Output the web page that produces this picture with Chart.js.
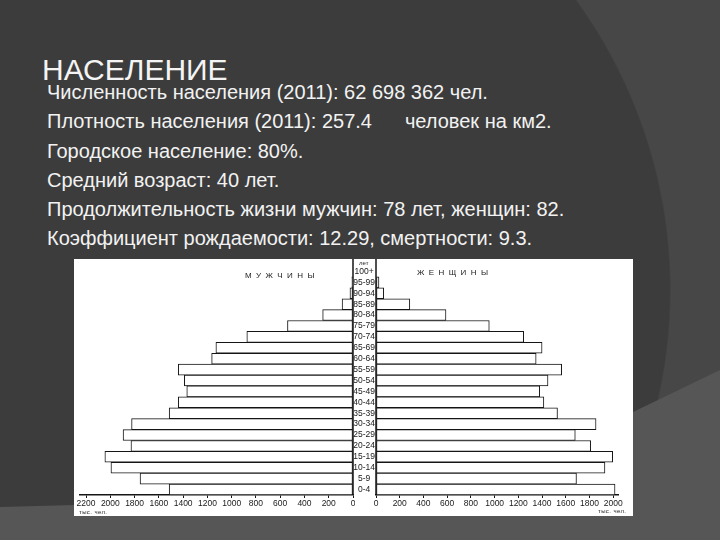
<!DOCTYPE html>
<html>
<head>
<meta charset="utf-8">
<script src="https://cdn.jsdelivr.net/npm/chart.js@4"></script>
<style>
  html, body { margin: 0; padding: 0; }
  body {
    width: 720px; height: 540px; overflow: hidden; position: relative;
    background: radial-gradient(circle 494px at 177px 290px, #3c3c3c 99.7%, #474747 100%);
    font-family: 'Liberation Sans', Arial, sans-serif;
  }
  .band {
    position: absolute; left: 0; top: 0; width: 720px; height: 540px; background: #565656;
    clip-path: polygon(0 507px, 74px 505px, 633px 412px, 720px 370px, 720px 540px, 0 540px);
  }
  .title {
    position: absolute; left: 42px; top: 55px; font-size: 30px; line-height: 30px;
    color: #f4f4f4;
  }
  .facts {
    position: absolute; left: 47px; top: 78px; font-size: 20px; line-height: 29.3px;
    color: #f2f2f2; white-space: pre;
  }
  .gap { display: inline-block; width: 33px; }
  .figure {
    position: absolute; left: 74px; top: 259px; width: 559px; height: 257px; background: #fff;
  }
  .figure canvas { position: absolute; top: 0; }
  .lbl {
    position: absolute; color: #222; white-space: nowrap;
    font-family: 'Liberation Sans', Arial, sans-serif;
  }
</style>
</head>
<body>
<div class="band"></div>
<div class="title">НАСЕЛЕНИЕ</div>
<div class="facts">Численность населения (2011): 62 698 362 чел.
Плотность населения (2011): 257.4<span class="gap"></span>человек на км2.
Городское население: 80%.
Средний возраст: 40 лет.
Продолжительность жизни мужчин: 78 лет, женщин: 82.
Коэффициент рождаемости: 12.29, смертности: 9.3.</div>

<div class="figure">
  <canvas id="menChart" width="281" height="257" style="left:0"></canvas>
  <canvas id="womenChart" width="280" height="257" style="left:279px"></canvas>
  <div class="lbl" style="left:171px; top:12px; font-size:8px; letter-spacing:4.4px;">МУЖЧИНЫ</div>
  <div class="lbl" style="left:343px; top:9px; font-size:8px; letter-spacing:4.4px;">ЖЕНЩИНЫ</div>
  <div class="lbl" style="left:285px; top:1px; font-size:6px;">лет</div>
  <div class="lbl" style="left:5px; top:250px; font-size:6px; letter-spacing:0.4px;">тыс. чел.</div>
  <div class="lbl" style="left:524px; top:249px; font-size:6px; letter-spacing:0.4px;">тыс. чел.</div>
</div>

<script>
// age groups, oldest at the top
const ageGroups = ['100+', '95-99', '90-94', '85-89', '80-84', '75-79', '70-74', '65-69', '60-64', '55-59', '50-54',
    '45-49', '40-44', '35-39', '30-34', '25-29', '20-24', '15-19', '10-14', '5-9', '0-4'];

// thousands of people
const men = [0, 10, 25, 90, 250, 540, 875, 1130, 1165, 1440, 1390, 1370, 1440, 1515, 1825, 1895, 1830, 2045, 1995, 1755, 1515];
const women = [0, 25, 65, 285, 590, 955, 1245, 1400, 1350, 1565, 1450, 1380, 1415, 1530, 1855, 1680, 1810, 1995, 1930, 1690, 2015];

// axis tick labels
const menTicks = [0, 200, 400, 600, 800, 1000, 1200, 1400, 1600, 1800, 2000, 2200];
const womenTicks = [0, 200, 400, 600, 800, 1000, 1200, 1400, 1600, 1800, 2000];

const labelFont = "'Liberation Sans', Arial, sans-serif";
const ink = '#151515';

// vertical line of the age column, from the top of the figure down to the axis
const columnLine = (side) => ({
    id: 'columnLine',
    afterDraw(chart) {
        const { ctx, chartArea } = chart;
        const x = side === 'right' ? chartArea.right : chartArea.left;
        ctx.save();
        ctx.strokeStyle = ink;
        ctx.lineWidth = 1.5;
        ctx.beginPath();
        ctx.moveTo(x, 0);
        ctx.lineTo(x, chartArea.bottom);
        ctx.stroke();
        ctx.restore();
    }
});

const barDataset = (values) => ({
    data: values,
    backgroundColor: '#ffffff',
    borderColor: ink,
    borderWidth: 1,
    borderSkipped: false,
    barPercentage: 1,
    categoryPercentage: 1
});

const valueAxis = (max, tickValues, reverse) => ({
    type: 'linear',
    position: 'bottom',
    reverse: reverse,
    min: 0,
    max: max,
    afterBuildTicks: (scale) => { scale.ticks = tickValues.map(v => ({ value: v })); },
    afterFit: (scale) => { scale.height = 21; },
    grid: { display: true, drawOnChartArea: false, drawTicks: true, tickLength: 3, color: ink, lineWidth: 1 },
    border: { display: true, color: ink, width: 1.5 },
    ticks: {
        font: { family: labelFont, size: 8.5 }, color: '#1a1a1a', padding: 1, maxRotation: 0, autoSkip: false,
        callback: (value) => String(value)
    }
});

const commonOptions = {
    responsive: false,
    animation: false,
    indexAxis: 'y',
    plugins: { legend: { display: false }, tooltip: { enabled: false }, title: { display: false } }
};

// men, growing to the left
new Chart(document.getElementById('menChart').getContext('2d'), {
    type: 'bar',
    data: { labels: ageGroups, datasets: [barDataset(men)] },
    options: {
        ...commonOptions,
        layout: { padding: { left: 6, right: 2, top: 7, bottom: 0 } },
        scales: {
            x: valueAxis(2250, menTicks, true),
            y: { display: false }
        }
    },
    plugins: [columnLine('right')]
});

// women, growing to the right; the age labels sit in the column on the left
new Chart(document.getElementById('womenChart').getContext('2d'), {
    type: 'bar',
    data: { labels: ageGroups, datasets: [barDataset(women)] },
    options: {
        ...commonOptions,
        layout: { padding: { left: 0, right: 15, top: 7, bottom: 0 } },
        scales: {
            x: valueAxis(2040, womenTicks, false),
            y: {
                position: 'left',
                afterFit: (scale) => { scale.width = 23; },
                grid: { display: false, drawTicks: false },
                border: { display: false },
                ticks: { font: { family: labelFont, size: 8.5 }, color: '#1a1a1a', padding: 1, crossAlign: 'center', autoSkip: false }
            }
        }
    },
    plugins: [columnLine('left')]
});
</script>
</body>
</html>
